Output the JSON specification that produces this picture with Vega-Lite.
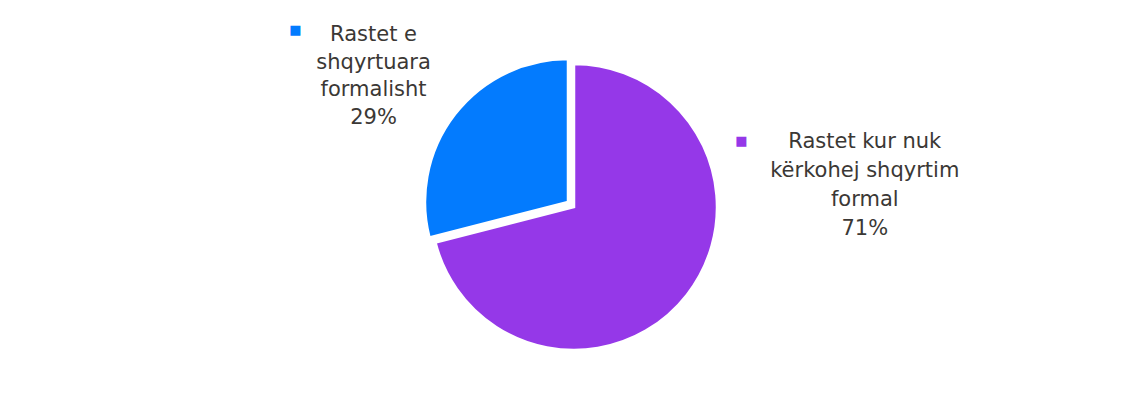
{
  "$schema": "https://vega.github.io/schema/vega-lite/v6.json",
  "width": 1096,
  "height": 396,
  "padding": {"left": 26, "top": 9, "right": 0, "bottom": 0},
  "autosize": {"type": "none"},
  "background": "white",
  "config": {"view": {"stroke": null}},
  "data": {
    "values": [
      {"category": "Rastet kur nuk kërkohej shqyrtim formal", "value": 71, "order": 1, "label": ["Rastet kur nuk", "kërkohej shqyrtim", "formal", "71%"]},
      {"category": "Rastet e shqyrtuara formalisht", "value": 29, "order": 2, "label": ["Rastet e", "shqyrtuara", "formalisht", "29%"]}
    ]
  },
  "transform": [
    {"stack": "value", "groupby": [], "as": ["v0", "v1"], "sort": [{"field": "order", "order": "ascending"}]}
  ],
  "layer": [
    {
      "transform": [{"filter": "datum.order == 1"}],
      "mark": {"type": "arc", "outerRadius": 143, "stroke": "white", "strokeWidth": 2.5},
      "encoding": {
        "theta": {"field": "v0", "type": "quantitative", "scale": {"domain": [0, 100]}},
        "theta2": {"field": "v1"},
        "color": {"field": "category", "type": "nominal", "legend": null,
          "scale": {"domain": ["Rastet kur nuk kërkohej shqyrtim formal", "Rastet e shqyrtuara formalisht"], "range": ["#9538E8", "#037BFE"]}}
      }
    },
    {
      "transform": [{"filter": "datum.order == 2"}],
      "mark": {"type": "arc", "outerRadius": 143, "stroke": "white", "strokeWidth": 2.5, "xOffset": -6, "yOffset": -5},
      "encoding": {
        "theta": {"field": "v0", "type": "quantitative", "scale": {"domain": [0, 100]}},
        "theta2": {"field": "v1"},
        "color": {"field": "category", "type": "nominal", "legend": null}
      }
    },
    {
      "transform": [{"filter": "datum.order == 2"}],
      "mark": {"type": "text", "radius": 264, "theta": -0.862, "fontSize": 21, "font": "DejaVu Sans", "color": "#3b3835", "lineHeight": 27.5, "align": "center", "baseline": "middle"},
      "encoding": {"text": {"field": "label"}}
    },
    {
      "transform": [{"filter": "datum.order == 1"}],
      "mark": {"type": "text", "radius": 298, "theta": 1.350, "fontSize": 21, "font": "DejaVu Sans", "color": "#3b3835", "lineHeight": 29, "align": "center", "baseline": "middle"},
      "encoding": {"text": {"field": "label"}}
    },
    {
      "transform": [{"filter": "datum.order == 2"}],
      "mark": {"type": "text", "text": "■", "radius": 330, "theta": -1.005, "fontSize": 13, "font": "DejaVu Sans", "align": "center", "baseline": "middle"},
      "encoding": {"color": {"field": "category", "type": "nominal", "legend": null}}
    },
    {
      "transform": [{"filter": "datum.order == 1"}],
      "mark": {"type": "text", "text": "■", "radius": 180, "theta": 1.194, "fontSize": 13, "font": "DejaVu Sans", "align": "center", "baseline": "middle"},
      "encoding": {"color": {"field": "category", "type": "nominal", "legend": null}}
    }
  ]
}
